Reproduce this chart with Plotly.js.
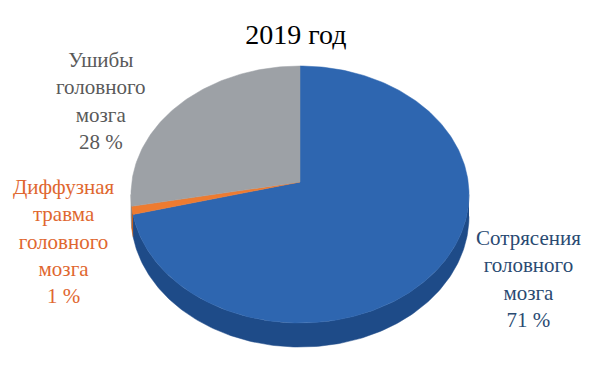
<!DOCTYPE html>
<html>
<head>
<meta charset="utf-8">
<script src="https://cdn.plot.ly/plotly-3.0.1.min.js"></script>
<style>html,body{margin:0;padding:0;background:#fff;}#chart{width:600px;height:366px;}</style>
</head>
<body>
<div id="chart"></div>
<script>
// ---- data ----
const chartTitle = "2019 год";
const categories = [
  "Сотрясения<br>головного<br>мозга",
  "Диффузная<br>травма<br>головного<br>мозга",
  "Ушибы<br>головного<br>мозга"
];
const shares = [71, 1, 28];
const topColors = ["#2e66b0", "#ee7b30", "#9da1a6"];
const sideColors = ["#1e4b88", "#c2611f", "#7d8186"];
const labelColors = ["#2a4a72", "#e0672f", "#595959"];

// ---- pseudo-3D pie geometry (layout, not data) ----
const geo = {cx: 300, cy: 182, A: 168.2, B: 127.3, k: 0.0973, drop: 21.7};
function proj(theta, d) {
  const u = Math.sin(theta), v = -Math.cos(theta);
  const w = 1 - geo.k * v;
  return [geo.cx + geo.A * u / w, geo.cy + (geo.B * v + d) / w];
}
function arc(a, b, d) {
  const pts = [];
  const steps = Math.max(2, Math.ceil(Math.abs(b - a) / (Math.PI / 180)));
  for (let i = 0; i <= steps; i++) pts.push(proj(a + (b - a) * i / steps, d));
  return pts;
}
const total = shares.reduce((s, v) => s + v, 0);
const visA = Math.acos(-geo.k), visB = 2 * Math.PI - Math.acos(-geo.k);

const traces = [];
const tops = [];
let acc = 0;
shares.forEach((v, i) => {
  const a = acc / total * 2 * Math.PI;
  acc += v;
  const b = acc / total * 2 * Math.PI;
  const sa = Math.max(a, visA), sb = Math.min(b, visB);
  if (sb > sa) {
    const pts = arc(sa, sb, 0).concat(arc(sb, sa, geo.drop));
    traces.push({
      type: "scatter", mode: "lines", fill: "toself",
      x: pts.map(p => p[0]), y: pts.map(p => p[1]),
      fillcolor: sideColors[i], line: {width: 0.5, color: sideColors[i]},
      hoverinfo: "skip", showlegend: false
    });
  }
  const pts = [[geo.cx, geo.cy]].concat(arc(a, b, 0)).concat([[geo.cx, geo.cy]]);
  tops.push({
    type: "scatter", mode: "lines", fill: "toself",
    x: pts.map(p => p[0]), y: pts.map(p => p[1]),
    fillcolor: topColors[i], line: {width: 0.5, color: topColors[i]},
    hoverinfo: "skip", showlegend: false
  });
});

const labelPos = [[528, 279], [63, 241], [101, 101]];
const annotations = shares.map((v, i) => ({
  xref: "x", yref: "y", x: labelPos[i][0], y: labelPos[i][1],
  xanchor: "center", yanchor: "middle", showarrow: false, align: "center",
  text: categories[i] + "<br>" + v + " %",
  font: {family: "Liberation Serif", size: 21, color: labelColors[i]}
}));

const layout = {
  width: 600, height: 366,
  margin: {l: 0, r: 0, t: 0, b: 0},
  paper_bgcolor: "#ffffff", plot_bgcolor: "#ffffff",
  font: {family: "Liberation Serif"},
  title: {
    text: chartTitle, x: 0.493, xanchor: "center", y: 0.907, yanchor: "middle",
    font: {family: "Liberation Serif", size: 28, color: "#000000"}
  },
  xaxis: {range: [0, 600], visible: false, fixedrange: true},
  yaxis: {range: [366, 0], visible: false, fixedrange: true},
  annotations: annotations,
  showlegend: false
};

Plotly.newPlot("chart", traces.concat(tops), layout, {displayModeBar: false, staticPlot: true});
</script>
</body>
</html>
